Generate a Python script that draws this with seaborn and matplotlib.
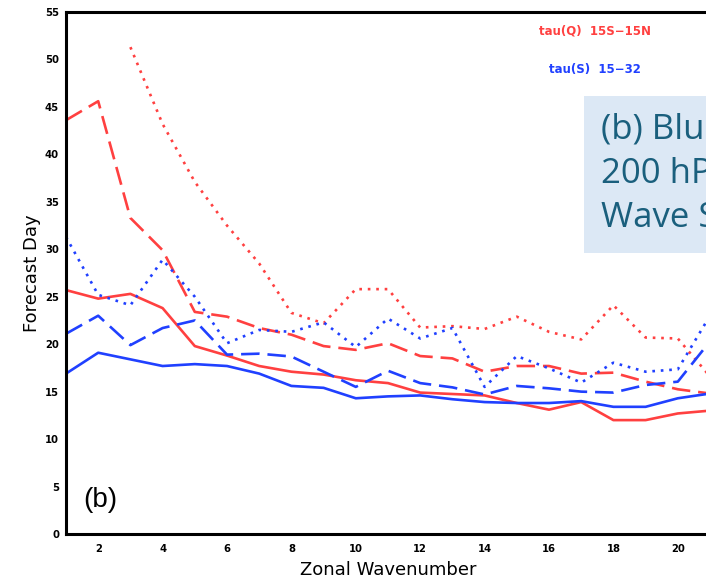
import numpy as np
import pandas as pd
import matplotlib
matplotlib.use("Agg")
import matplotlib.pyplot as plt
import seaborn as sns

wavenumber = list(range(1, 22))
red_solid = [25.7, 24.8, 25.3, 23.8, 19.8, 18.8, 17.7, 17.1, 16.8, 16.2, 15.9, 14.9, 14.75, 14.6, 13.8, 13.1, 13.9, 12.0, 12.0, 12.7, 13.0]
red_dashed = [43.6, 45.6, 33.3, 29.9, 23.4, 22.9, 21.7, 21.0, 19.8, 19.4, 20.1, 18.75, 18.5, 17.1, 17.7, 17.7, 16.9, 17.0, 16.05, 15.25, 14.8]
red_dotted = [np.nan, np.nan, 51.3, 43.2, 37.1, 32.5, 28.5, 23.3, 22.2, 25.8, 25.8, 21.75, 21.9, 21.6, 22.9, 21.3, 20.5, 24.1, 20.7, 20.6, 16.6]
blue_solid = [16.9, 19.1, 18.4, 17.7, 17.9, 17.7, 16.9, 15.6, 15.4, 14.3, 14.5, 14.6, 14.2, 13.9, 13.8, 13.8, 14.0, 13.4, 13.4, 14.3, 14.8]
blue_dashed = [21.1, 23.0, 19.9, 21.7, 22.5, 18.9, 19.0, 18.7, 17.1, 15.5, 17.2, 15.9, 15.45, 14.7, 15.6, 15.35, 15.0, 14.9, 15.7, 16.05, 20.3]
blue_dotted = [31.3, 25.2, 24.1, 28.9, 25.0, 20.1, 21.5, 21.3, 22.3, 19.7, 22.7, 20.6, 21.7, 15.5, 18.75, 17.45, 15.95, 18.05, 17.1, 17.35, 23.0]

x_ticks = [2, 4, 6, 8, 10, 12, 14, 16, 18, 20]
y_ticks = [0, 5, 10, 15, 20, 25, 30, 35, 40, 45, 50, 55]

RED = "#ff4040"
BLUE = "#2040ff"

sns.set_style("white")
plt.rcParams['font.family'] = ['DejaVu Sans']

fig = plt.figure(figsize=(7.06, 5.81), dpi=100)
ax = fig.add_axes([66/706, 47/581, 644/706, 522/581])

series = [
    (red_solid, RED, "-"),
    (red_dashed, RED, (0, (7, 3))),
    (red_dotted, RED, (0, (1, 2.2))),
    (blue_solid, BLUE, "-"),
    (blue_dashed, BLUE, (0, (7, 3))),
    (blue_dotted, BLUE, (0, (1, 2.2))),
]
for vals, col, ls in series:
    df = pd.DataFrame({"x": wavenumber, "y": vals}).dropna()
    sns.lineplot(data=df, x="x", y="y", ax=ax, color=col, linewidth=1.9,
                 linestyle=ls, legend=False)

ax.set_xlim(1, 21)
ax.set_ylim(0, 55)
ax.set_xticks(x_ticks)
ax.set_yticks(y_ticks)
ax.set_xticklabels([str(t) for t in x_ticks], fontsize=8, fontweight="bold",
                   fontstretch="condensed", color="black")
ax.set_yticklabels([str(t) for t in y_ticks], fontsize=8, fontweight="bold",
                   fontstretch="condensed", color="black")
ax.tick_params(axis="both", direction="out", length=3, width=1.5, color="black", pad=2)
ax.tick_params(axis="x", pad=4)
for s in ax.spines.values():
    s.set_color("black")
    s.set_linewidth(2.2)

ax.set_xlabel("Zonal Wavenumber", fontsize=13, labelpad=5, color="black")
ax.set_ylabel("Forecast Day", fontsize=13, color="black")
ax.yaxis.set_label_coords(-0.039, 0.5)

fig.text(595/706, 1 - 31/581, "tau(Q)  15S\u221215N", color=RED, fontsize=8.5,
         fontweight="bold", ha="center", va="center")
fig.text(595/706, 1 - 69/581, "tau(S)  15\u221232", color=BLUE, fontsize=8.5,
         fontweight="bold", ha="center", va="center")

fig.text(100/706, 1 - 500/581, "(b)", fontsize=20, ha="center", va="center",
         family="Liberation Sans", color="black")

# highlighted text box (clipped at figure edge, as in the reference)
box = matplotlib.patches.Rectangle((584/706, 1 - 253/581), 140/706, 157/581,
                                   transform=fig.transFigure, facecolor="#dce8f5",
                                   edgecolor="none", zorder=5)
fig.patches.append(box)
fig.text(601/706, 1 - 174/581, "(b) Blue Line:\n200 hPa\nWave Speed", color="#1a5f7d",
         fontsize=25, family="Open Sans", va="center", ha="left", linespacing=1.4,
         zorder=6)

fig.savefig("out.png", dpi=100)
